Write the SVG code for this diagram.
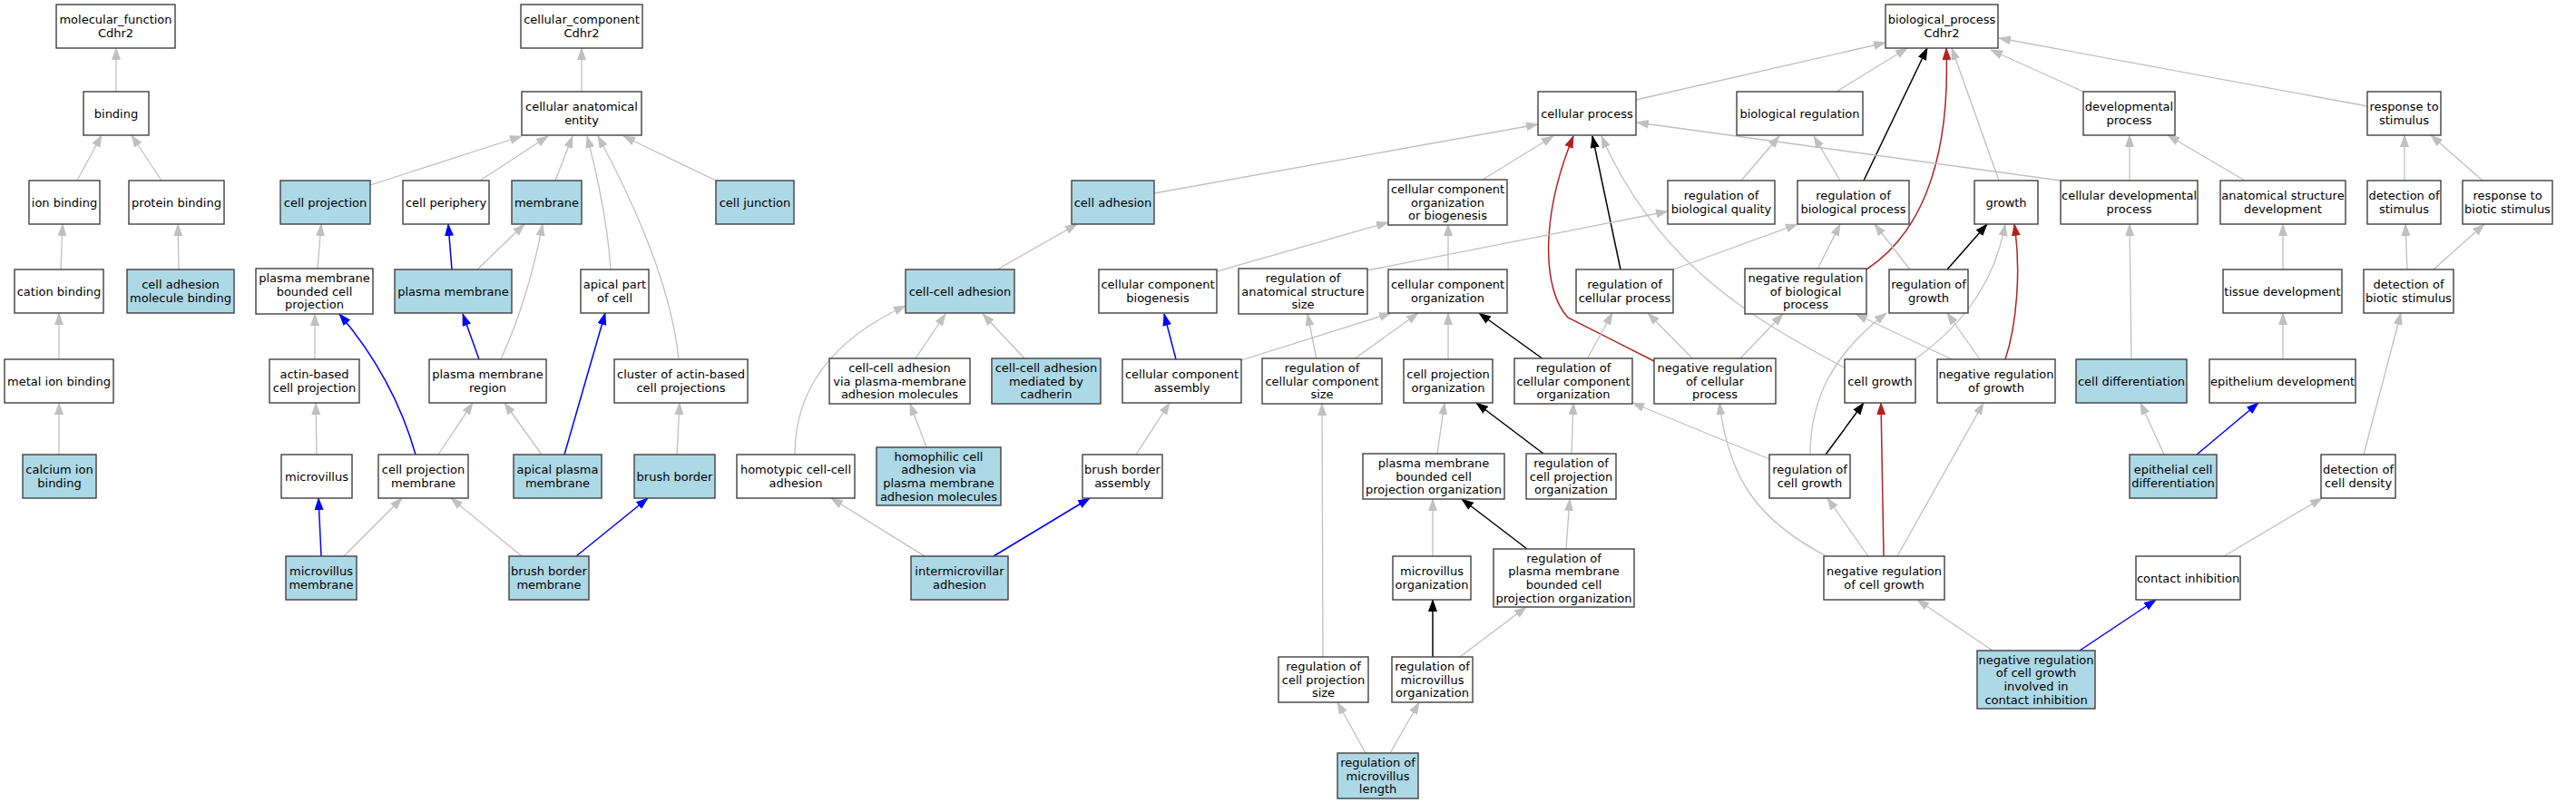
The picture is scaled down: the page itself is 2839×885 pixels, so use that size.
<svg xmlns="http://www.w3.org/2000/svg" width="2839" height="885" viewBox="0 0 2839 885">
<style>
.node rect{fill:#ffffff;stroke:#404040;stroke-width:1.4}
.node.hl rect{fill:#add8e6}
.node text{font-family:"DejaVu Sans","Liberation Sans",sans-serif;font-size:13px;text-anchor:middle;fill:#000}
.e{fill:none;stroke-width:1.3}
.g{stroke:#c0c0c0;marker-end:url(#ag)}
.b{stroke:#0000ff;stroke-width:1.5;marker-end:url(#ab)}
.k{stroke:#000000;stroke-width:1.5;marker-end:url(#ak)}
.r{stroke:#b22222;stroke-width:1.5;marker-end:url(#ar)}
</style>
<defs>
<marker id="ag" viewBox="0 0 14 10" refX="13" refY="5" markerWidth="14" markerHeight="10" markerUnits="userSpaceOnUse" orient="auto"><path d="M0,0L14,5L0,10z" fill="#c0c0c0"/></marker>
<marker id="ab" viewBox="0 0 14 10" refX="13" refY="5" markerWidth="14" markerHeight="10" markerUnits="userSpaceOnUse" orient="auto"><path d="M0,0L14,5L0,10z" fill="#0000ff"/></marker>
<marker id="ak" viewBox="0 0 14 10" refX="13" refY="5" markerWidth="14" markerHeight="10" markerUnits="userSpaceOnUse" orient="auto"><path d="M0,0L14,5L0,10z" fill="#000000"/></marker>
<marker id="ar" viewBox="0 0 14 10" refX="13" refY="5" markerWidth="14" markerHeight="10" markerUnits="userSpaceOnUse" orient="auto"><path d="M0,0L14,5L0,10z" fill="#b22222"/></marker>
</defs>
<rect x="0" y="0" width="2839" height="885" fill="#ffffff"/>
<g id="edges">
<path class="e g" d="M128,101 L128,53"/>
<path class="e g" d="M85,199 L112,149"/>
<path class="e g" d="M178,199 L145,149"/>
<path class="e g" d="M67,297 L69,247"/>
<path class="e g" d="M197,297 L196,247"/>
<path class="e g" d="M65,396 L65,345"/>
<path class="e g" d="M65,501 L65,444"/>
<path class="e g" d="M641,101 L641,53"/>
<path class="e g" d="M408,204 L575,150"/>
<path class="e g" d="M529,199 L604,150"/>
<path class="e g" d="M612,199 L631,150"/>
<path class="e g" d="M673,297 C670,250 660,200 647,150"/>
<path class="e g" d="M748,396 C740,320 705,235 659,150"/>
<path class="e g" d="M789,199 L687,150"/>
<path class="e g" d="M350,296 L354,247"/>
<path class="e b" d="M498,297 L494,247"/>
<path class="e g" d="M526,297 L578,247"/>
<path class="e g" d="M552,396 C575,345 590,290 598,247"/>
<path class="e b" d="M622,501 L667,345"/>
<path class="e g" d="M347,396 L347,346"/>
<path class="e b" d="M458,501 C445,455 420,400 374,346"/>
<path class="e b" d="M528,396 L510,346"/>
<path class="e g" d="M483,501 L521,444"/>
<path class="e g" d="M597,501 L556,444"/>
<path class="e g" d="M349,501 L348,444"/>
<path class="e g" d="M746,501 L749,444"/>
<path class="e b" d="M354,613 L351,549"/>
<path class="e g" d="M379,613 L443,549"/>
<path class="e g" d="M575,613 L497,549"/>
<path class="e b" d="M635,613 L714,549"/>
<path class="e g" d="M1803,110 L2078,47"/>
<path class="e g" d="M2024,101 L2102,53"/>
<path class="e k" d="M2054,199 L2124,53"/>
<path class="e r" d="M2057,297 C2110,262 2150,190 2145,53"/>
<path class="e g" d="M2203,199 L2151,53"/>
<path class="e g" d="M2296,101 L2194,55"/>
<path class="e g" d="M2609,117 L2203,42"/>
<path class="e g" d="M1634,198 L1712,150"/>
<path class="e g" d="M1272,213 L1695,137"/>
<path class="e k" d="M1786,297 L1755,150"/>
<path class="e r" d="M1823,398 L1728,350 C1700,320 1697,240 1734,150"/>
<path class="e g" d="M2034,406 C1950,360 1830,300 1765,150"/>
<path class="e g" d="M2271,199 L1804,135"/>
<path class="e g" d="M1919,199 L1961,150"/>
<path class="e g" d="M2028,199 L1999,150"/>
<path class="e g" d="M1341,299 L1530,245"/>
<path class="e g" d="M1596,297 L1596,247"/>
<path class="e g" d="M1507,298 L1838,233"/>
<path class="e g" d="M1844,297 L1981,247"/>
<path class="e g" d="M2003,297 L2028,247"/>
<path class="e g" d="M2105,297 L2066,247"/>
<path class="e k" d="M2146,297 L2190,247"/>
<path class="e r" d="M2210,396 C2222,360 2228,300 2220,247"/>
<path class="e g" d="M2109,397 C2175,350 2200,300 2210,247"/>
<path class="e g" d="M2349,396 L2347,247"/>
<path class="e g" d="M2347,199 L2347,149"/>
<path class="e g" d="M2474,199 L2389,149"/>
<path class="e g" d="M2650,199 L2650,149"/>
<path class="e g" d="M2736,199 L2679,149"/>
<path class="e g" d="M2516,297 L2516,247"/>
<path class="e g" d="M2653,297 L2651,247"/>
<path class="e g" d="M2682,297 L2738,247"/>
<path class="e g" d="M2516,396 L2516,345"/>
<path class="e g" d="M2605,501 L2646,345"/>
<path class="e g" d="M2385,501 L2359,444"/>
<path class="e b" d="M2421,501 L2489,444"/>
<path class="e g" d="M2451,613 L2559,549"/>
<path class="e g" d="M2196,717 L2113,661"/>
<path class="e b" d="M2292,717 L2376,661"/>
<path class="e g" d="M2091,613 L2186,444"/>
<path class="e r" d="M2076,613 L2073,444"/>
<path class="e g" d="M2059,613 L2014,549"/>
<path class="e g" d="M2013,613 C1940,575 1905,530 1895,444"/>
<path class="e k" d="M2012,501 L2054,444"/>
<path class="e g" d="M1995,501 C1995,440 2020,390 2079,345"/>
<path class="e g" d="M1950,506 L1799,444"/>
<path class="e g" d="M2151,396 L2045,346"/>
<path class="e g" d="M2182,396 L2146,345"/>
<path class="e g" d="M1917,396 L1965,346"/>
<path class="e g" d="M1866,396 L1816,345"/>
<path class="e g" d="M1749,396 L1777,345"/>
<path class="e k" d="M1701,396 L1630,345"/>
<path class="e g" d="M1596,396 L1596,345"/>
<path class="e g" d="M1492,396 L1563,345"/>
<path class="e g" d="M1451,396 L1441,346"/>
<path class="e g" d="M1368,397 L1533,345"/>
<path class="e b" d="M1296,396 L1283,346"/>
<path class="e g" d="M876,501 C876,440 905,380 998,337"/>
<path class="e g" d="M1009,395 L1042,346"/>
<path class="e g" d="M1129,395 L1083,346"/>
<path class="e g" d="M1099,297 L1187,247"/>
<path class="e g" d="M1021,493 L1003,445"/>
<path class="e g" d="M1019,613 L916,549"/>
<path class="e b" d="M1095,613 L1201,549"/>
<path class="e g" d="M1252,501 L1289,444"/>
<path class="e g" d="M1584,500 L1592,444"/>
<path class="e k" d="M1701,500 L1627,444"/>
<path class="e g" d="M1732,500 L1734,444"/>
<path class="e g" d="M1579,613 L1579,550"/>
<path class="e k" d="M1683,605 L1611,550"/>
<path class="e g" d="M1726,605 L1730,550"/>
<path class="e k" d="M1579,724 L1579,661"/>
<path class="e g" d="M1609,724 L1682,669"/>
<path class="e g" d="M1458,724 L1457,445"/>
<path class="e g" d="M1505,830 L1474,774"/>
<path class="e g" d="M1532,830 L1564,774"/>
</g>
<g id="mf" class="node"><rect x="62" y="5" width="131" height="48"/><text><tspan x="127.5" y="26.2">molecular_function</tspan><tspan x="127.5" y="40.9">Cdhr2</tspan></text></g>
<g id="binding" class="node"><rect x="92" y="101" width="72" height="48"/><text x="128" y="129.5">binding</text></g>
<g id="ion_binding" class="node"><rect x="32" y="199" width="78" height="48"/><text x="71" y="227.5">ion binding</text></g>
<g id="protein_binding" class="node"><rect x="142" y="199" width="105" height="48"/><text x="194.5" y="227.5">protein binding</text></g>
<g id="cation_binding" class="node"><rect x="16" y="297" width="98" height="48"/><text x="65" y="325.5">cation binding</text></g>
<g id="cell_adhesion_molecule_binding" class="node hl"><rect x="140" y="297" width="118" height="48"/><text><tspan x="199" y="318.2">cell adhesion</tspan><tspan x="199" y="332.9">molecule binding</tspan></text></g>
<g id="metal_ion_binding" class="node"><rect x="5" y="396" width="120" height="48"/><text x="65" y="424.5">metal ion binding</text></g>
<g id="calcium_ion_binding" class="node hl"><rect x="25" y="501" width="81" height="48"/><text><tspan x="65.5" y="522.2">calcium ion</tspan><tspan x="65.5" y="536.9">binding</tspan></text></g>
<g id="cc" class="node"><rect x="574" y="5" width="134" height="48"/><text><tspan x="641" y="26.2">cellular_component</tspan><tspan x="641" y="40.9">Cdhr2</tspan></text></g>
<g id="cellular_anatomical_entity" class="node"><rect x="575" y="101" width="132" height="48"/><text><tspan x="641" y="122.2">cellular anatomical</tspan><tspan x="641" y="136.9">entity</tspan></text></g>
<g id="cell_projection" class="node hl"><rect x="309" y="199" width="99" height="48"/><text x="358.5" y="227.5">cell projection</text></g>
<g id="cell_periphery" class="node"><rect x="444" y="199" width="95" height="48"/><text x="491.5" y="227.5">cell periphery</text></g>
<g id="membrane" class="node hl"><rect x="564" y="199" width="77" height="48"/><text x="602.5" y="227.5">membrane</text></g>
<g id="cell_junction" class="node hl"><rect x="789" y="199" width="86" height="48"/><text x="832" y="227.5">cell junction</text></g>
<g id="pm_bounded_cell_projection" class="node"><rect x="282" y="296" width="129" height="50"/><text><tspan x="346.5" y="310.8">plasma membrane</tspan><tspan x="346.5" y="325.5">bounded cell</tspan><tspan x="346.5" y="340.2">projection</tspan></text></g>
<g id="plasma_membrane" class="node hl"><rect x="435" y="297" width="129" height="48"/><text x="499.5" y="325.5">plasma membrane</text></g>
<g id="apical_part_of_cell" class="node"><rect x="640" y="297" width="75" height="48"/><text><tspan x="677.5" y="318.2">apical part</tspan><tspan x="677.5" y="332.9">of cell</tspan></text></g>
<g id="actin_based_cell_projection" class="node"><rect x="297" y="396" width="99" height="48"/><text><tspan x="346.5" y="417.2">actin-based</tspan><tspan x="346.5" y="431.9">cell projection</tspan></text></g>
<g id="plasma_membrane_region" class="node"><rect x="473" y="396" width="129" height="48"/><text><tspan x="537.5" y="417.2">plasma membrane</tspan><tspan x="537.5" y="431.9">region</tspan></text></g>
<g id="cluster_actin_projections" class="node"><rect x="677" y="396" width="147" height="48"/><text><tspan x="750.5" y="417.2">cluster of actin-based</tspan><tspan x="750.5" y="431.9">cell projections</tspan></text></g>
<g id="microvillus" class="node"><rect x="310" y="501" width="78" height="48"/><text x="349" y="529.5">microvillus</text></g>
<g id="cell_projection_membrane" class="node"><rect x="417" y="501" width="99" height="48"/><text><tspan x="466.5" y="522.2">cell projection</tspan><tspan x="466.5" y="536.9">membrane</tspan></text></g>
<g id="apical_plasma_membrane" class="node hl"><rect x="566" y="501" width="97" height="48"/><text><tspan x="614.5" y="522.2">apical plasma</tspan><tspan x="614.5" y="536.9">membrane</tspan></text></g>
<g id="brush_border" class="node hl"><rect x="699" y="501" width="89" height="48"/><text x="743.5" y="529.5">brush border</text></g>
<g id="microvillus_membrane" class="node hl"><rect x="315" y="613" width="78" height="48"/><text><tspan x="354" y="634.2">microvillus</tspan><tspan x="354" y="648.9">membrane</tspan></text></g>
<g id="brush_border_membrane" class="node hl"><rect x="561" y="613" width="88" height="48"/><text><tspan x="605" y="634.2">brush border</tspan><tspan x="605" y="648.9">membrane</tspan></text></g>
<g id="bp" class="node"><rect x="2078" y="5" width="124" height="48"/><text><tspan x="2140" y="26.2">biological_process</tspan><tspan x="2140" y="40.9">Cdhr2</tspan></text></g>
<g id="cellular_process" class="node"><rect x="1695" y="101" width="108" height="48"/><text x="1749" y="129.5">cellular process</text></g>
<g id="biological_regulation" class="node"><rect x="1914" y="101" width="139" height="48"/><text x="1983.5" y="129.5">biological regulation</text></g>
<g id="developmental_process" class="node"><rect x="2296" y="101" width="101" height="48"/><text><tspan x="2346.5" y="122.2">developmental</tspan><tspan x="2346.5" y="136.9">process</tspan></text></g>
<g id="response_to_stimulus" class="node"><rect x="2609" y="101" width="81" height="48"/><text><tspan x="2649.5" y="122.2">response to</tspan><tspan x="2649.5" y="136.9">stimulus</tspan></text></g>
<g id="cell_adhesion" class="node hl"><rect x="1181" y="199" width="91" height="48"/><text x="1226.5" y="227.5">cell adhesion</text></g>
<g id="cc_org_or_biogenesis" class="node"><rect x="1530" y="198" width="131" height="50"/><text><tspan x="1595.5" y="212.8">cellular component</tspan><tspan x="1595.5" y="227.5">organization</tspan><tspan x="1595.5" y="242.2">or biogenesis</tspan></text></g>
<g id="reg_biological_quality" class="node"><rect x="1838" y="199" width="118" height="48"/><text><tspan x="1897" y="220.2">regulation of</tspan><tspan x="1897" y="234.9">biological quality</tspan></text></g>
<g id="reg_biological_process" class="node"><rect x="1981" y="199" width="123" height="48"/><text><tspan x="2042.5" y="220.2">regulation of</tspan><tspan x="2042.5" y="234.9">biological process</tspan></text></g>
<g id="growth" class="node"><rect x="2176" y="199" width="70" height="48"/><text x="2211" y="227.5">growth</text></g>
<g id="cellular_developmental_process" class="node"><rect x="2271" y="199" width="151" height="48"/><text><tspan x="2346.5" y="220.2">cellular developmental</tspan><tspan x="2346.5" y="234.9">process</tspan></text></g>
<g id="anatomical_structure_development" class="node"><rect x="2447" y="199" width="138" height="48"/><text><tspan x="2516" y="220.2">anatomical structure</tspan><tspan x="2516" y="234.9">development</tspan></text></g>
<g id="detection_of_stimulus" class="node"><rect x="2609" y="199" width="81" height="48"/><text><tspan x="2649.5" y="220.2">detection of</tspan><tspan x="2649.5" y="234.9">stimulus</tspan></text></g>
<g id="response_to_biotic_stimulus" class="node"><rect x="2714" y="199" width="99" height="48"/><text><tspan x="2763.5" y="220.2">response to</tspan><tspan x="2763.5" y="234.9">biotic stimulus</tspan></text></g>
<g id="cell_cell_adhesion" class="node hl"><rect x="998" y="297" width="120" height="48"/><text x="1058" y="325.5">cell-cell adhesion</text></g>
<g id="cc_biogenesis" class="node"><rect x="1211" y="297" width="130" height="48"/><text><tspan x="1276" y="318.2">cellular component</tspan><tspan x="1276" y="332.9">biogenesis</tspan></text></g>
<g id="reg_anatomical_structure_size" class="node"><rect x="1365" y="296" width="142" height="50"/><text><tspan x="1436" y="310.8">regulation of</tspan><tspan x="1436" y="325.5">anatomical structure</tspan><tspan x="1436" y="340.2">size</tspan></text></g>
<g id="cc_organization" class="node"><rect x="1530" y="297" width="131" height="48"/><text><tspan x="1595.5" y="318.2">cellular component</tspan><tspan x="1595.5" y="332.9">organization</tspan></text></g>
<g id="reg_cellular_process" class="node"><rect x="1737" y="297" width="107" height="48"/><text><tspan x="1790.5" y="318.2">regulation of</tspan><tspan x="1790.5" y="332.9">cellular process</tspan></text></g>
<g id="neg_reg_biological_process" class="node"><rect x="1923" y="296" width="134" height="50"/><text><tspan x="1990" y="310.8">negative regulation</tspan><tspan x="1990" y="325.5">of biological</tspan><tspan x="1990" y="340.2">process</tspan></text></g>
<g id="reg_growth" class="node"><rect x="2082" y="297" width="87" height="48"/><text><tspan x="2125.5" y="318.2">regulation of</tspan><tspan x="2125.5" y="332.9">growth</tspan></text></g>
<g id="tissue_development" class="node"><rect x="2450" y="297" width="131" height="48"/><text x="2515.5" y="325.5">tissue development</text></g>
<g id="detection_of_biotic_stimulus" class="node"><rect x="2605" y="297" width="99" height="48"/><text><tspan x="2654.5" y="318.2">detection of</tspan><tspan x="2654.5" y="332.9">biotic stimulus</tspan></text></g>
<g id="cca_via_pm_adhesion_molecules" class="node"><rect x="914" y="395" width="155" height="50"/><text><tspan x="991.5" y="409.8">cell-cell adhesion</tspan><tspan x="991.5" y="424.5">via plasma-membrane</tspan><tspan x="991.5" y="439.2">adhesion molecules</tspan></text></g>
<g id="cca_cadherin" class="node hl"><rect x="1093" y="395" width="120" height="50"/><text><tspan x="1153" y="409.8">cell-cell adhesion</tspan><tspan x="1153" y="424.5">mediated by</tspan><tspan x="1153" y="439.2">cadherin</tspan></text></g>
<g id="cc_assembly" class="node"><rect x="1237" y="396" width="131" height="48"/><text><tspan x="1302.5" y="417.2">cellular component</tspan><tspan x="1302.5" y="431.9">assembly</tspan></text></g>
<g id="reg_cc_size" class="node"><rect x="1391" y="395" width="132" height="50"/><text><tspan x="1457" y="409.8">regulation of</tspan><tspan x="1457" y="424.5">cellular component</tspan><tspan x="1457" y="439.2">size</tspan></text></g>
<g id="cell_projection_organization" class="node"><rect x="1547" y="396" width="98" height="48"/><text><tspan x="1596" y="417.2">cell projection</tspan><tspan x="1596" y="431.9">organization</tspan></text></g>
<g id="reg_cc_organization" class="node"><rect x="1669" y="395" width="130" height="50"/><text><tspan x="1734" y="409.8">regulation of</tspan><tspan x="1734" y="424.5">cellular component</tspan><tspan x="1734" y="439.2">organization</tspan></text></g>
<g id="neg_reg_cellular_process" class="node"><rect x="1823" y="395" width="134" height="50"/><text><tspan x="1890" y="409.8">negative regulation</tspan><tspan x="1890" y="424.5">of cellular</tspan><tspan x="1890" y="439.2">process</tspan></text></g>
<g id="cell_growth" class="node"><rect x="2033" y="396" width="78" height="48"/><text x="2072" y="424.5">cell growth</text></g>
<g id="neg_reg_growth" class="node"><rect x="2135" y="396" width="130" height="48"/><text><tspan x="2200" y="417.2">negative regulation</tspan><tspan x="2200" y="431.9">of growth</tspan></text></g>
<g id="cell_differentiation" class="node hl"><rect x="2288" y="396" width="122" height="48"/><text x="2349" y="424.5">cell differentiation</text></g>
<g id="epithelium_development" class="node"><rect x="2435" y="396" width="161" height="48"/><text x="2515.5" y="424.5">epithelium development</text></g>
<g id="homotypic_cca" class="node"><rect x="812" y="501" width="130" height="48"/><text><tspan x="877" y="522.2">homotypic cell-cell</tspan><tspan x="877" y="536.9">adhesion</tspan></text></g>
<g id="homophilic_ca" class="node hl"><rect x="966" y="493" width="137" height="64"/><text><tspan x="1034.5" y="507.5">homophilic cell</tspan><tspan x="1034.5" y="522.2">adhesion via</tspan><tspan x="1034.5" y="536.9">plasma membrane</tspan><tspan x="1034.5" y="551.6">adhesion molecules</tspan></text></g>
<g id="brush_border_assembly" class="node"><rect x="1193" y="501" width="88" height="48"/><text><tspan x="1237" y="522.2">brush border</tspan><tspan x="1237" y="536.9">assembly</tspan></text></g>
<g id="pmbcp_organization" class="node"><rect x="1502" y="500" width="156" height="50"/><text><tspan x="1580" y="514.8">plasma membrane</tspan><tspan x="1580" y="529.5">bounded cell</tspan><tspan x="1580" y="544.2">projection organization</tspan></text></g>
<g id="reg_cp_organization" class="node"><rect x="1682" y="500" width="99" height="50"/><text><tspan x="1731.5" y="514.8">regulation of</tspan><tspan x="1731.5" y="529.5">cell projection</tspan><tspan x="1731.5" y="544.2">organization</tspan></text></g>
<g id="reg_cell_growth" class="node"><rect x="1950" y="501" width="89" height="48"/><text><tspan x="1994.5" y="522.2">regulation of</tspan><tspan x="1994.5" y="536.9">cell growth</tspan></text></g>
<g id="epithelial_cell_differentiation" class="node hl"><rect x="2347" y="501" width="96" height="48"/><text><tspan x="2395" y="522.2">epithelial cell</tspan><tspan x="2395" y="536.9">differentiation</tspan></text></g>
<g id="detection_of_cell_density" class="node"><rect x="2558" y="501" width="82" height="48"/><text><tspan x="2599" y="522.2">detection of</tspan><tspan x="2599" y="536.9">cell density</tspan></text></g>
<g id="intermicrovillar_adhesion" class="node hl"><rect x="1004" y="613" width="107" height="48"/><text><tspan x="1057.5" y="634.2">intermicrovillar</tspan><tspan x="1057.5" y="648.9">adhesion</tspan></text></g>
<g id="microvillus_organization" class="node"><rect x="1535" y="613" width="86" height="48"/><text><tspan x="1578" y="634.2">microvillus</tspan><tspan x="1578" y="648.9">organization</tspan></text></g>
<g id="reg_pmbcp_organization" class="node"><rect x="1646" y="605" width="155" height="64"/><text><tspan x="1723.5" y="619.5">regulation of</tspan><tspan x="1723.5" y="634.2">plasma membrane</tspan><tspan x="1723.5" y="648.9">bounded cell</tspan><tspan x="1723.5" y="663.6">projection organization</tspan></text></g>
<g id="neg_reg_cell_growth" class="node"><rect x="2010" y="613" width="133" height="48"/><text><tspan x="2076.5" y="634.2">negative regulation</tspan><tspan x="2076.5" y="648.9">of cell growth</tspan></text></g>
<g id="contact_inhibition" class="node"><rect x="2354" y="613" width="115" height="48"/><text x="2411.5" y="641.5">contact inhibition</text></g>
<g id="reg_cp_size" class="node"><rect x="1409" y="724" width="99" height="50"/><text><tspan x="1458.5" y="738.8">regulation of</tspan><tspan x="1458.5" y="753.5">cell projection</tspan><tspan x="1458.5" y="768.2">size</tspan></text></g>
<g id="reg_microvillus_organization" class="node"><rect x="1534" y="724" width="89" height="50"/><text><tspan x="1578.5" y="738.8">regulation of</tspan><tspan x="1578.5" y="753.5">microvillus</tspan><tspan x="1578.5" y="768.2">organization</tspan></text></g>
<g id="neg_reg_cell_growth_contact_inhibition" class="node hl"><rect x="2179" y="717" width="130" height="64"/><text><tspan x="2244" y="731.5">negative regulation</tspan><tspan x="2244" y="746.2">of cell growth</tspan><tspan x="2244" y="760.9">involved in</tspan><tspan x="2244" y="775.6">contact inhibition</tspan></text></g>
<g id="reg_microvillus_length" class="node hl"><rect x="1474" y="830" width="89" height="50"/><text><tspan x="1518.5" y="844.8">regulation of</tspan><tspan x="1518.5" y="859.5">microvillus</tspan><tspan x="1518.5" y="874.2">length</tspan></text></g>
</svg>
